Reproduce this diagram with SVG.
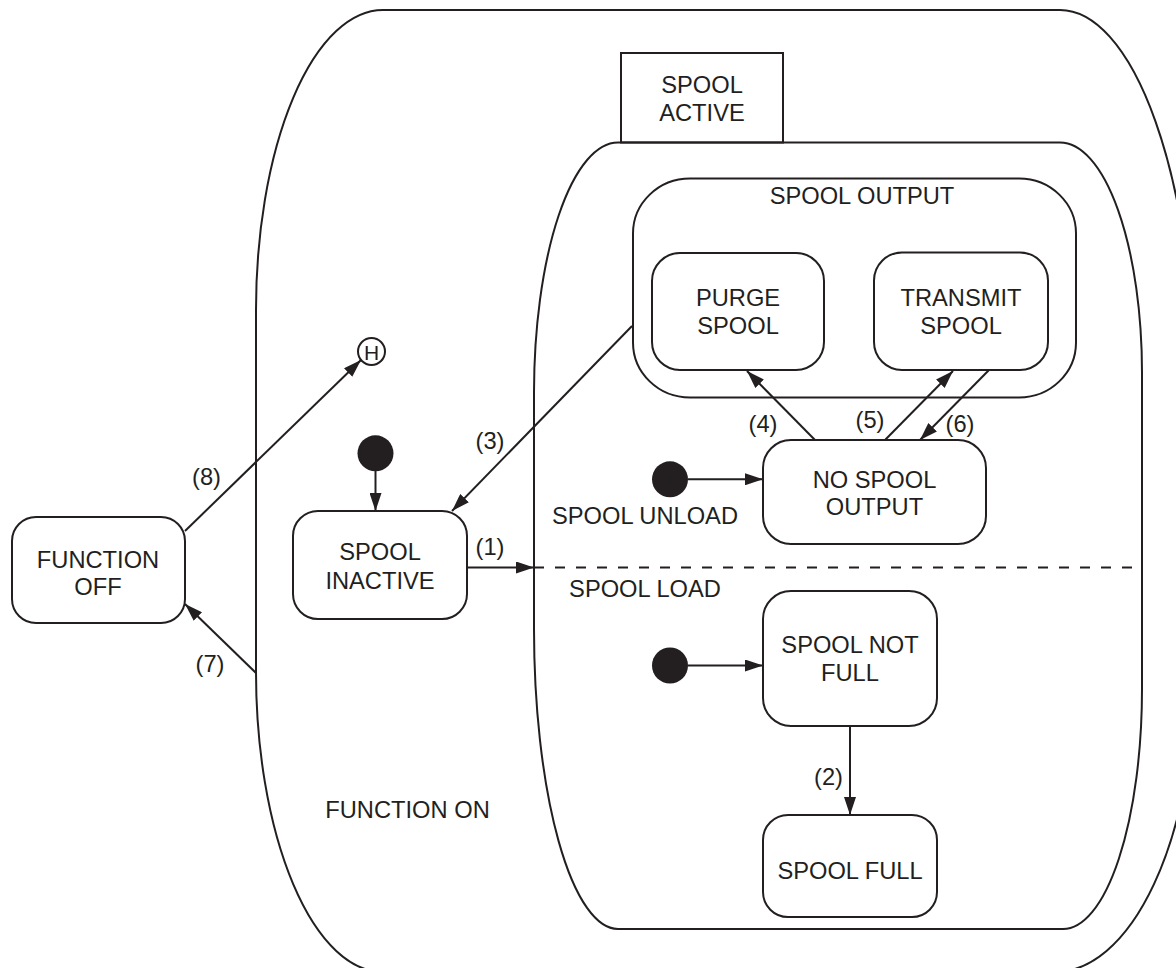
<svg xmlns="http://www.w3.org/2000/svg" width="1176" height="968" viewBox="0 0 1176 968">
<style>
.s{fill:none;stroke:#231f20;stroke-width:2}
.b{fill:#fff;stroke:#231f20;stroke-width:2}
.t{font-family:"Liberation Sans",Arial,sans-serif;font-size:23.7px;fill:#231f20;text-anchor:middle}
.c{stroke:#231f20;stroke-width:2;fill:none;marker-end:url(#ah)}
.d{fill:#231f20}
</style>
<defs>
<marker id="ah" markerUnits="userSpaceOnUse" markerWidth="18" markerHeight="12" refX="18" refY="6" orient="auto">
<path d="M0,0 L18,6 L0,12 Z" fill="#231f20"/>
</marker>
</defs>
<rect width="1176" height="968" fill="#fff"/>
<g id="function-on">
<path class="s" d="M383,10 L1060,10 A135,380 0 0 1 1195,390 L1195,672 A140,300 0 0 1 1055,972 L383,972 A127,300 0 0 1 256,672 L256,310 A127,300 0 0 1 383,10 Z"/>
<text class="t" x="407.5" y="817.5">FUNCTION ON</text>
</g>
<g id="spool-active">
<rect class="s" x="621" y="53" width="162" height="89.5"/>
<text class="t" x="702" y="92.5">SPOOL</text>
<text class="t" x="702" y="121">ACTIVE</text>
<path class="s" d="M618,142.5 L1060,142.5 A82,230 0 0 1 1142,372.5 L1142,689 A79,240 0 0 1 1063,929 L618,929 A84,300 0 0 1 534,629 L534,392 A84,250 0 0 1 618,142.5 Z"/>
<line x1="534" y1="567.5" x2="1142" y2="567.5" stroke="#231f20" stroke-width="2" stroke-dasharray="10,11"/>
<text class="t" x="645" y="523.5">SPOOL UNLOAD</text>
<text class="t" x="645" y="596.5">SPOOL LOAD</text>
</g>
<g id="spool-output">
<rect class="s" x="633" y="178.5" width="443" height="219" rx="57" ry="55"/>
<text class="t" x="862" y="203.5">SPOOL OUTPUT</text>
</g>
<g id="purge-spool">
<rect class="b" x="652" y="253" width="172" height="117" rx="28"/>
<text class="t" x="738" y="306">PURGE</text>
<text class="t" x="738" y="334">SPOOL</text>
</g>
<g id="transmit-spool">
<rect class="b" x="874" y="252.5" width="174" height="117.5" rx="28"/>
<text class="t" x="961" y="306">TRANSMIT</text>
<text class="t" x="961" y="334">SPOOL</text>
</g>
<g id="no-spool-output">
<rect class="b" x="763" y="440" width="223" height="104" rx="28"/>
<text class="t" x="874.5" y="487.5">NO SPOOL</text>
<text class="t" x="874.5" y="515">OUTPUT</text>
</g>
<g id="spool-not-full">
<rect class="b" x="763" y="591" width="174" height="135" rx="28"/>
<text class="t" x="850" y="652.5">SPOOL NOT</text>
<text class="t" x="850" y="680.5">FULL</text>
</g>
<g id="spool-full">
<rect class="b" x="763" y="815" width="174" height="102" rx="25"/>
<text class="t" x="850" y="878.5">SPOOL FULL</text>
</g>
<g id="spool-inactive">
<rect class="b" x="293" y="511" width="174" height="108" rx="25"/>
<text class="t" x="380" y="560">SPOOL</text>
<text class="t" x="380" y="588.5">INACTIVE</text>
</g>
<g id="function-off">
<rect class="b" x="12" y="517" width="173" height="106" rx="24"/>
<text class="t" x="98" y="567.5">FUNCTION</text>
<text class="t" x="98" y="595">OFF</text>
</g>
<g id="history">
<circle class="b" cx="371.5" cy="351.5" r="13.5"/>
<text class="t" x="371.5" y="359.5" style="font-size:21px">H</text>
</g>
<g id="init-inactive"><circle class="d" cx="375.5" cy="453.3" r="18"/></g>
<g id="init-unload"><circle class="d" cx="670" cy="479.3" r="18"/></g>
<g id="init-load"><circle class="d" cx="670" cy="665.5" r="18"/></g>
<g id="connectors">
<line class="c" x1="375.5" y1="471" x2="375.5" y2="511"/>
<line class="c" x1="688" y1="479.3" x2="763" y2="479.3"/>
<line class="c" x1="688" y1="665.5" x2="763" y2="665.5"/>
<line class="c" x1="467" y1="567.5" x2="534" y2="567.5"/>
<line class="c" x1="850" y1="726" x2="850" y2="815"/>
<line class="c" x1="632" y1="326" x2="452" y2="511"/>
<line class="c" x1="815" y1="440" x2="747" y2="371"/>
<line class="c" x1="885" y1="440" x2="953" y2="371"/>
<line class="c" x1="989" y1="370" x2="920" y2="440"/>
<line class="c" x1="256" y1="673" x2="185" y2="604"/>
<line class="c" x1="185" y1="531" x2="361" y2="360"/>
<text class="t" x="490" y="555">(1)</text>
<text class="t" x="828.5" y="784.5">(2)</text>
<text class="t" x="490" y="448.5">(3)</text>
<text class="t" x="763" y="431.5">(4)</text>
<text class="t" x="870" y="427.5">(5)</text>
<text class="t" x="960" y="431.5">(6)</text>
<text class="t" x="210" y="672">(7)</text>
<text class="t" x="206.5" y="485">(8)</text>
</g>
</svg>
